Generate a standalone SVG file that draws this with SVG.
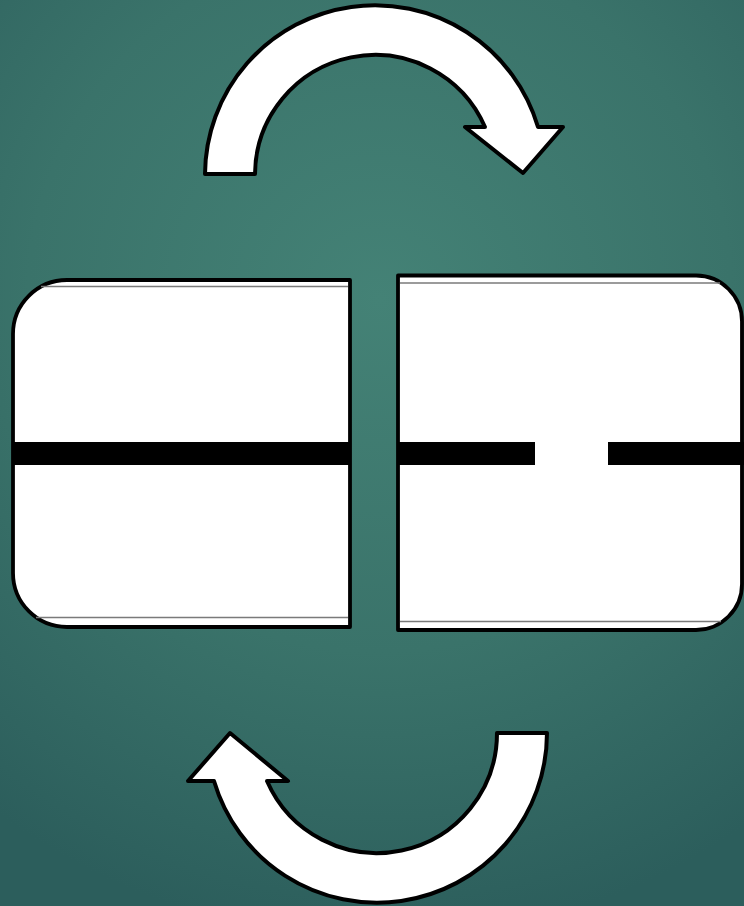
<svg xmlns="http://www.w3.org/2000/svg" width="744" height="906" viewBox="0 0 744 906">
  <defs>
    <radialGradient id="bg" cx="380" cy="300" r="640" gradientUnits="userSpaceOnUse">
      <stop offset="0" stop-color="#448276"/>
      <stop offset="0.55" stop-color="#3a736a"/>
      <stop offset="1" stop-color="#2c5e5c"/>
    </radialGradient>
  </defs>
  <style>
    .panel { fill: #ffffff; stroke: #000000; stroke-width: 3.8; stroke-linejoin: round; }
    .rule { stroke: #7a7a7a; stroke-width: 1.5; fill: none; }
    .bar { fill: #000000; }
    .arrow { fill: #ffffff; stroke: #000000; stroke-width: 4; stroke-linejoin: round; }
  </style>
  <rect width="744" height="906" fill="url(#bg)"/>

  <g id="left-panel">
    <path class="panel" d="M350,280 L67,280 A54,54 0 0 0 13,334 L13,573 A54,54 0 0 0 67,627 L350,627 Z"/>
    <line class="rule" x1="41" y1="286.5" x2="348" y2="286.5"/>
    <line class="rule" x1="36" y1="617.5" x2="348" y2="617.5"/>
    <rect class="bar" x="13" y="442" width="337" height="23"/>
  </g>

  <g id="right-panel">
    <path class="panel" d="M398,275.5 L696,275.5 A46,46 0 0 1 742,321.5 L742,584 A46,46 0 0 1 696,630 L398,630 Z"/>
    <line class="rule" x1="400" y1="283" x2="720" y2="283"/>
    <line class="rule" x1="400" y1="621.5" x2="721" y2="621.5"/>
    <rect class="bar" x="398" y="442" width="137" height="23"/>
    <rect class="bar" x="608" y="442" width="136" height="23"/>
  </g>

  <g id="connectors">
    <path id="arrow-top" class="arrow" d="M205,174 A170,170 0 0 1 538,127 L563,127 L523,173 L465,127 L485,127 A120,120 0 0 0 255,174 Z"/>
    <path id="arrow-bottom" class="arrow" d="M547,733 A170,170 0 0 1 214,781 L188,781 L230,733 L288,781 L267,781 A120,120 0 0 0 497,733 Z"/>
  </g>
</svg>
